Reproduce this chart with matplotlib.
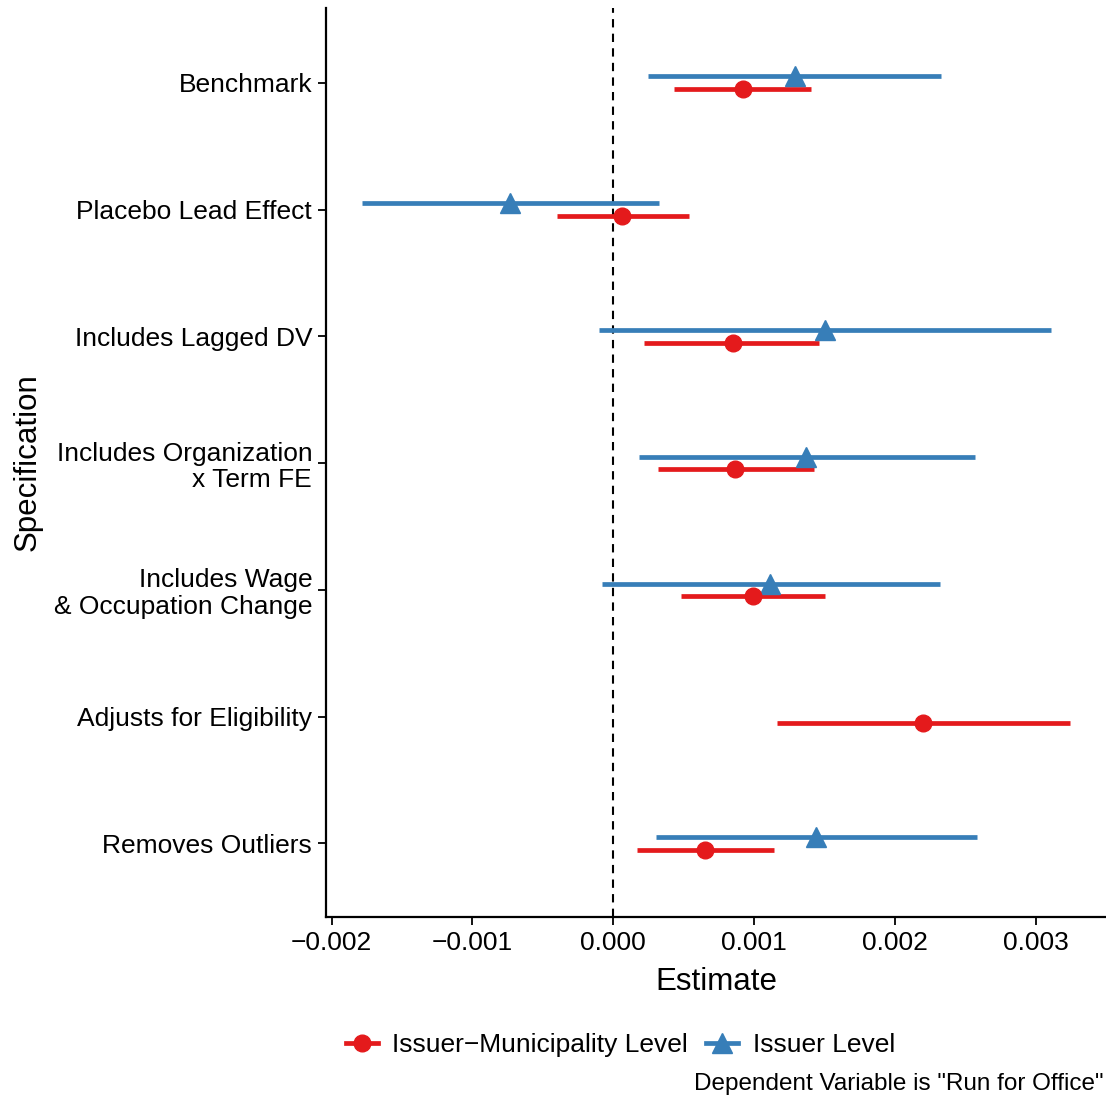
import numpy as np
import matplotlib
matplotlib.use('Agg')
import matplotlib.pyplot as plt
from matplotlib.lines import Line2D

plt.rcParams['font.family'] = ['Liberation Sans', 'DejaVu Sans']

# Specifications, top to bottom
specs = ['Benchmark', 'Placebo Lead Effect', 'Includes Lagged DV',
         'Includes Organization\nx Term FE', 'Includes Wage\n& Occupation Change',
         'Adjusts for Eligibility', 'Removes Outliers']

# Issuer-Municipality level estimates (red)
muni_est = [0.000919, 0.000062, 0.000854, 0.000868, 0.000992, 0.002200, 0.000651]
muni_lo = [0.000431, -0.000400, 0.000215, 0.000321, 0.000480, 0.001163, 0.000168]
muni_hi = [0.001402, 0.000537, 0.001458, 0.001425, 0.001504, 0.003244, 0.001141]

# Issuer level estimates (blue); no estimate for eligibility adjustment
iss_est = [0.001293, -0.000734, 0.001504, 0.001369, 0.001113, np.nan, 0.001440]
iss_lo = [0.000249, -0.001785, -0.000100, 0.000183, -0.000080, np.nan, 0.000303]
iss_hi = [0.002325, 0.000324, 0.003109, 0.002569, 0.002321, np.nan, 0.002583]

red = '#E41A1C'
blue = '#377EB8'

fig = plt.figure(figsize=(11.06, 10.99), dpi=100)
ax = fig.add_axes([0.2948, 0.1656, 0.7052, 0.8271])

pos = np.arange(len(specs))
dodge = 0.05

ax.axvline(0, color='black', linestyle=(0, (4, 3)), linewidth=1.5, zorder=1)

ax.hlines(pos - dodge, iss_lo, iss_hi, color=blue, linewidth=3.4, zorder=2)
ax.plot(iss_est, pos - dodge, linestyle='none', marker='^', markersize=14,
        color=blue, zorder=3)
ax.hlines(pos + dodge, muni_lo, muni_hi, color=red, linewidth=3.4, zorder=2)
ax.plot(muni_est, pos + dodge, linestyle='none', marker='o', markersize=12,
        color=red, zorder=3)

ax.set_xlim(-0.00204, 0.0035)
ax.set_ylim(6.58, -0.59)
ax.set_yticks(pos)
ax.set_yticklabels(specs, fontsize=19, linespacing=1.12)
ax.set_xticks([-0.002, -0.001, 0.0, 0.001, 0.002, 0.003])
ax.set_xticklabels(['\u22120.002', '\u22120.001', '0.000', '0.001', '0.002', '0.003'],
                   fontsize=19)
ax.tick_params(direction='out', length=6, width=1.3, color='black', pad=4)

for s in ['top', 'right']:
    ax.spines[s].set_visible(False)
for s in ['left', 'bottom']:
    ax.spines[s].set_linewidth(1.6)

ax.set_xlabel('Estimate', fontsize=22.5, labelpad=9)
ax.set_ylabel('Specification', fontsize=22.5, labelpad=8)

handles = [Line2D([], [], color=red, marker='o', markersize=12, linewidth=3.4),
           Line2D([], [], color=blue, marker='^', markersize=14, linewidth=3.4)]
fig.legend(handles, ['Issuer\u2212Municipality Level', 'Issuer Level'],
           loc='center', bbox_to_anchor=(0.561, 0.049), ncol=2, frameon=False,
           fontsize=19, handlelength=1.2, handletextpad=0.55, columnspacing=0.7)

fig.text(0.998, 0.004, 'Dependent Variable is "Run for Office"', ha='right',
         va='bottom', fontsize=17.5)

fig.savefig('out.png', dpi=100)
